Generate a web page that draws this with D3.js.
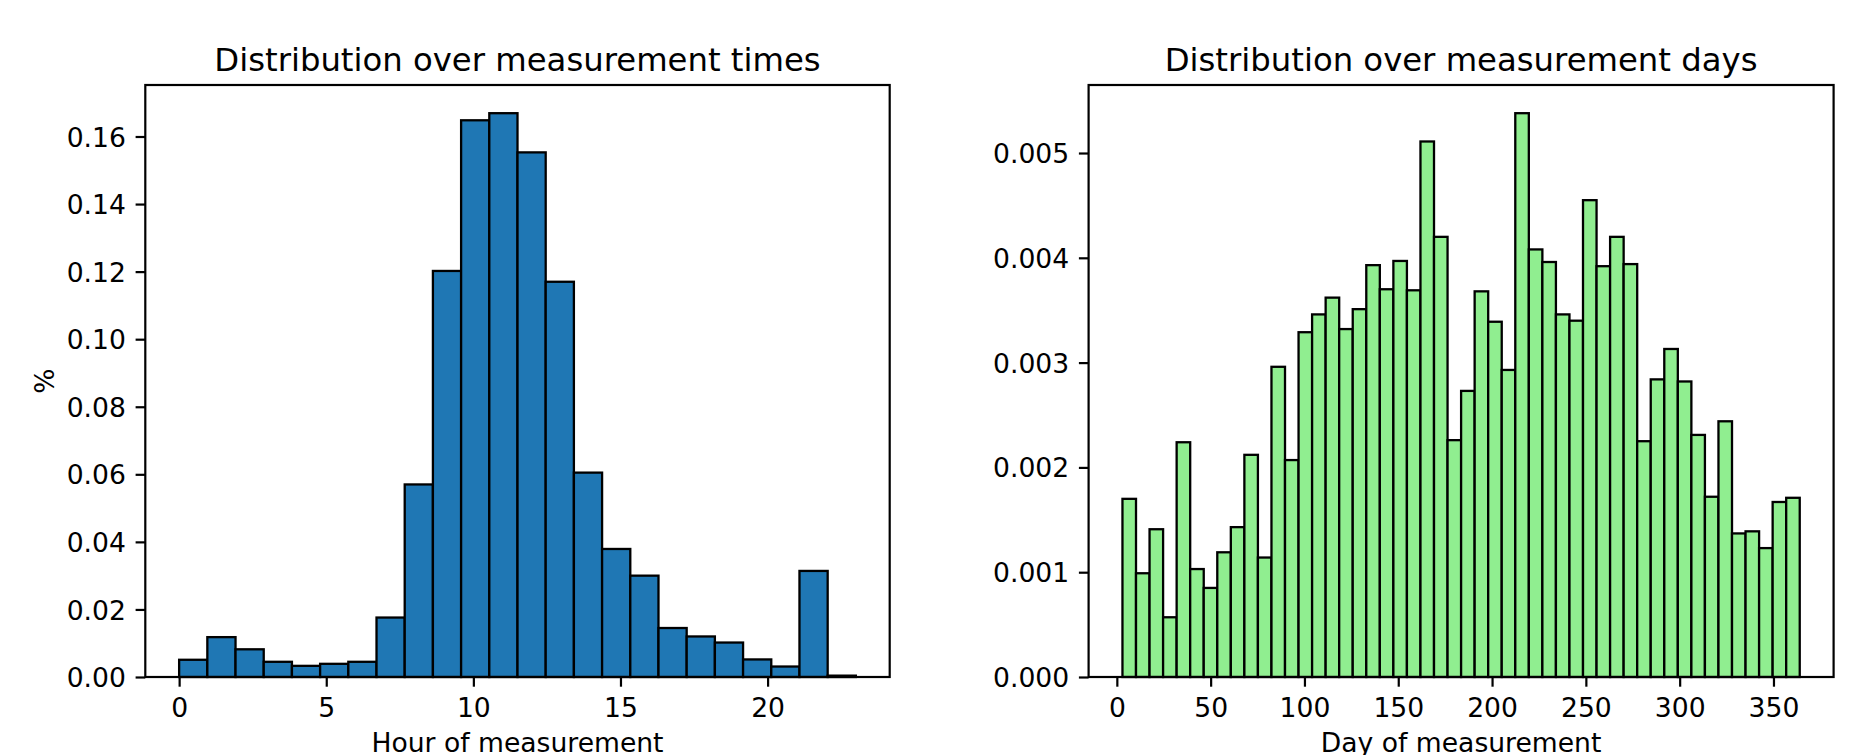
<!DOCTYPE html>
<html>
<head>
<meta charset="utf-8">
<script src="https://cdn.jsdelivr.net/npm/d3@7"></script>
<style>
  body { margin: 0; background: #fff; }
  svg { display: block; font-family: "DejaVu Sans", sans-serif; }
</style>
</head>
<body>
<script>
// hour histogram: 24 bins over [0, 23]
const hourRange = [0, 23];
const hourValues = [
  0.0051, 0.0118, 0.0082, 0.0045, 0.0033, 0.0039, 0.0045, 0.0176,
  0.0570, 0.1202, 0.1648, 0.1669, 0.1553, 0.1170, 0.0605, 0.0379,
  0.0300, 0.0145, 0.0120, 0.0102, 0.0052, 0.0031, 0.0314, 0.0004
];
const hourTicks = [0, 5, 10, 15, 20];
const hourYTicks = [0, 0.02, 0.04, 0.06, 0.08, 0.10, 0.12, 0.14, 0.16];

// day histogram: 50 bins over [3, 364]
const dayRange = [3, 364];
const dayValues = [
  0.00170, 0.00099, 0.00141, 0.00057, 0.00224, 0.00103, 0.00085, 0.00119,
  0.00143, 0.00212, 0.00114, 0.00296, 0.00207, 0.00329, 0.00346, 0.00362,
  0.00332, 0.00351, 0.00393, 0.00370, 0.00397, 0.00369, 0.00511, 0.00420,
  0.00226, 0.00273, 0.00368, 0.00339, 0.00293, 0.00538, 0.00408, 0.00396,
  0.00346, 0.00340, 0.00455, 0.00392, 0.00420, 0.00394, 0.00225, 0.00284,
  0.00313, 0.00282, 0.00231, 0.00172, 0.00244, 0.00137, 0.00139, 0.00123,
  0.00167, 0.00171
];
const dayTicks = [0, 50, 100, 150, 200, 250, 300, 350];
const dayYTicks = [0, 0.001, 0.002, 0.003, 0.004, 0.005];

const W = 1872, H = 755;
const tickFont = 26.6, titleFont = 32.3;
const tickLen = 9.7, tickPad = 9.7;

const svg = d3.select('body').append('svg')
  .attr('width', W)
  .attr('height', H);
svg.append('rect').attr('width', W).attr('height', H).attr('fill', '#fff');

function histPanel(opt) {
  const { left, right, top, bottom, range, values, xTicks, yTicks, fmt, fill, title, xlabel, ylabel } = opt;
  const n = values.length;
  const step = (range[1] - range[0]) / n;
  const edges = d3.range(n + 1).map(i => range[0] + i * step);
  const span = range[1] - range[0];

  const x = d3.scaleLinear()
    .domain([range[0] - span * 0.05, range[1] + span * 0.05])
    .range([left, right]);
  const y = d3.scaleLinear()
    .domain([0, d3.max(values) * 1.05])
    .range([bottom, top]);

  const g = svg.append('g');

  g.append('g').selectAll('rect')
    .data(values)
    .enter().append('rect')
    .attr('x', (d, i) => x(edges[i]))
    .attr('y', d => y(d))
    .attr('width', (d, i) => x(edges[i + 1]) - x(edges[i]))
    .attr('height', d => y(0) - y(d))
    .attr('fill', fill)
    .attr('stroke', '#000')
    .attr('stroke-width', 2.3);

  const xAxis = d3.axisBottom(x).tickValues(xTicks).tickSize(tickLen).tickPadding(tickPad);
  const yAxis = d3.axisLeft(y).tickValues(yTicks).tickFormat(d3.format(fmt)).tickSize(tickLen).tickPadding(tickPad);

  const gx = g.append('g').attr('transform', `translate(0,${bottom})`).call(xAxis);
  const gy = g.append('g').attr('transform', `translate(${left},0)`).call(yAxis);
  [gx, gy].forEach(a => {
    a.select('.domain').remove();
    a.selectAll('line').attr('stroke', '#000').attr('stroke-width', 2.2);
    a.selectAll('text')
      .attr('fill', '#000')
      .style('font-size', tickFont + 'px')
      .style('font-family', '"DejaVu Sans", sans-serif');
  });
  gx.selectAll('text').attr('dy', '0.76em');
  gy.selectAll('text').attr('dy', '0.36em');

  g.append('rect')
    .attr('x', left).attr('y', top)
    .attr('width', right - left).attr('height', bottom - top)
    .attr('fill', 'none')
    .attr('stroke', '#000')
    .attr('stroke-width', 2.2);

  g.append('text')
    .attr('x', (left + right) / 2)
    .attr('y', top - 14)
    .attr('text-anchor', 'middle')
    .style('font-size', titleFont + 'px')
    .text(title);

  g.append('text')
    .attr('x', (left + right) / 2)
    .attr('y', 752)
    .attr('text-anchor', 'middle')
    .style('font-size', tickFont + 'px')
    .text(xlabel);

  if (ylabel) {
    g.append('text')
      .attr('transform', `translate(54,${(top + bottom) / 2}) rotate(-90)`)
      .attr('text-anchor', 'middle')
      .style('font-size', tickFont + 'px')
      .text(ylabel);
  }
}

histPanel({
  left: 145.3, right: 889.7, top: 85, bottom: 677,
  range: hourRange, values: hourValues,
  xTicks: hourTicks, yTicks: hourYTicks, fmt: '.2f',
  fill: '#1f77b4',
  title: 'Distribution over measurement times',
  xlabel: 'Hour of measurement', ylabel: '%'
});

histPanel({
  left: 1088.6, right: 1833.6, top: 85, bottom: 677,
  range: dayRange, values: dayValues,
  xTicks: dayTicks, yTicks: dayYTicks, fmt: '.3f',
  fill: '#90ee90',
  title: 'Distribution over measurement days',
  xlabel: 'Day of measurement'
});
</script>
</body>
</html>
